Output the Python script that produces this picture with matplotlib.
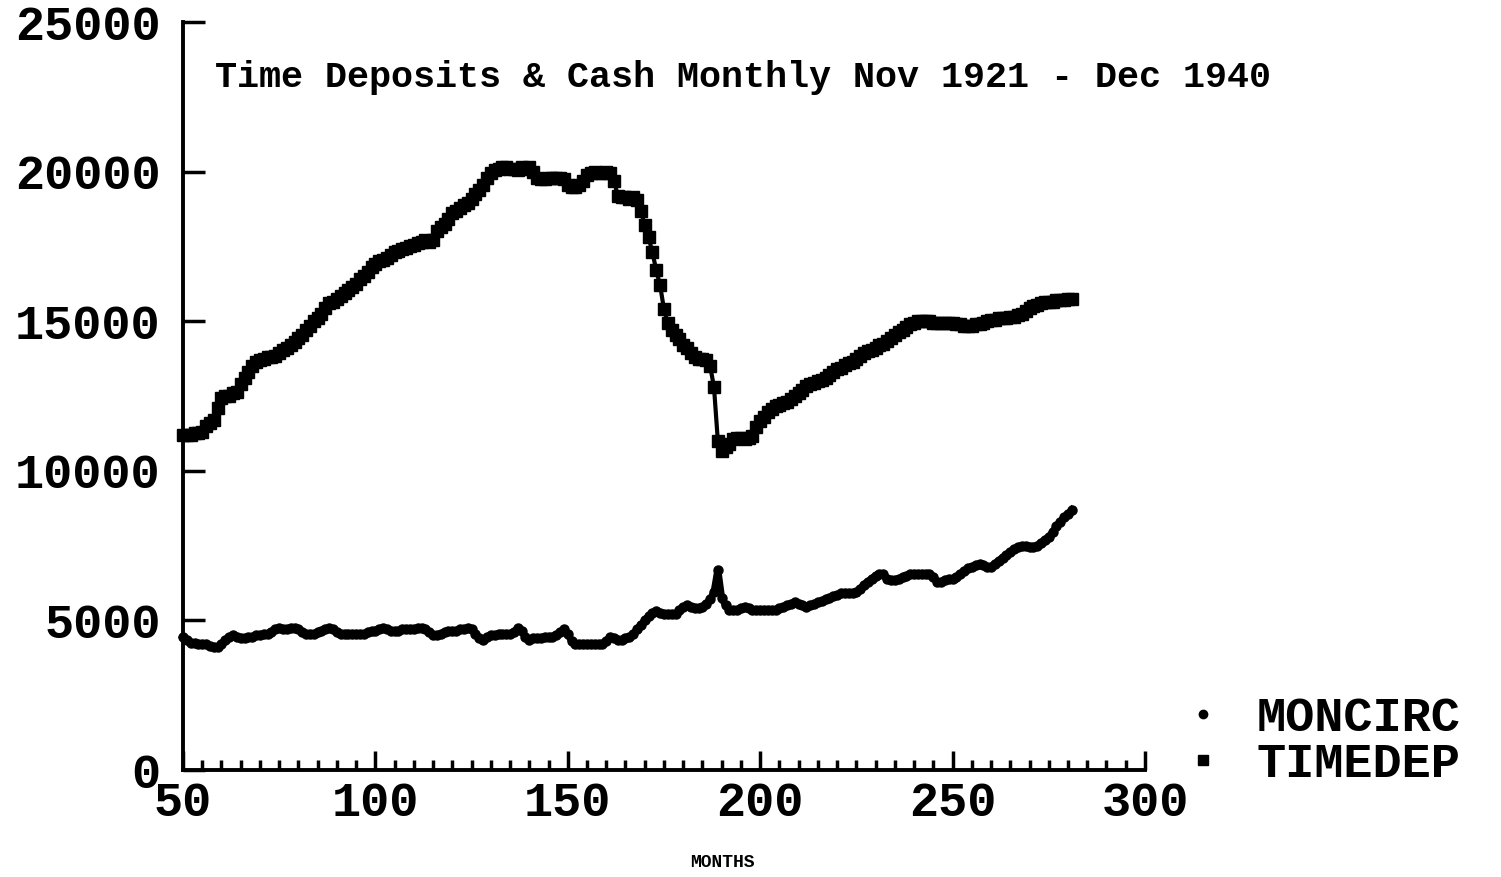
import matplotlib
matplotlib.use("Agg")
import matplotlib.pyplot as plt
import numpy as np
from matplotlib.lines import Line2D

plt.rcParams['font.family'] = ['Liberation Mono', 'DejaVu Sans Mono']
plt.rcParams['font.weight'] = 'bold'

# month index on the x axis (Nov 1921 - Dec 1940)
months = np.arange(50, 282)

# time deposits
timedep = [
    11200, 11200, 11200, 11250, 11250, 11300, 11500, 11600, 11700, 12100,
    12450, 12500, 12500, 12600, 12650, 12900, 13100, 13300, 13500, 13650,
    13700, 13750, 13800, 13800, 13850, 13950, 14050, 14100, 14200, 14300,
    14450, 14550, 14700, 14850, 15000, 15100, 15250, 15450, 15600, 15650,
    15750, 15850, 15950, 16050, 16150, 16250, 16400, 16500, 16650, 16800,
    16900, 17000, 17050, 17100, 17200, 17300, 17350, 17400, 17450, 17500,
    17550, 17600, 17650, 17700, 17650, 17700, 18000, 18150, 18250, 18400,
    18600, 18700, 18800, 18900, 18950, 19100, 19250, 19400, 19550, 19800,
    19950, 20050, 20100, 20150, 20150, 20100, 20100, 20050, 20150, 20100,
    20150, 20000, 19800, 19750, 19750, 19800, 19800, 19800, 19800, 19750,
    19550, 19500, 19500, 19550, 19700, 19900, 19950, 20000, 19950, 19950,
    20000, 19950, 19700, 19200, 19150, 19150, 19100, 19150, 19050, 18700,
    18200, 17800, 17300, 16700, 16200, 15400, 14950, 14700, 14550, 14400,
    14200, 14100, 13950, 13800, 13750, 13750, 13700, 13500, 12800, 11000,
    10650, 10800, 10900, 11050, 11100, 11100, 11050, 11100, 11150, 11450,
    11650, 11800, 11950, 12050, 12150, 12200, 12250, 12300, 12400, 12500,
    12600, 12700, 12850, 12900, 12950, 13000, 13050, 13100, 13200, 13300,
    13400, 13450, 13550, 13600, 13650, 13750, 13850, 13950, 14000, 14050,
    14100, 14200, 14250, 14350, 14450, 14550, 14650, 14700, 14800, 14900,
    14950, 15000, 15000, 15000, 15000, 14950, 14950, 14950, 14950, 14950,
    14950, 14900, 14900, 14850, 14850, 14850, 14900, 14900, 14950, 15000,
    15050, 15050, 15100, 15100, 15100, 15150, 15150, 15200, 15250, 15350,
    15450, 15500, 15550, 15600, 15650, 15650, 15650, 15700, 15700, 15700,
    15750, 15750,
]

# money in circulation (cash)
moncirc = [
    4450, 4350, 4250, 4250, 4200, 4200, 4200, 4150, 4100, 4100,
    4200, 4350, 4450, 4500, 4450, 4400, 4400, 4450, 4450, 4500,
    4500, 4550, 4550, 4600, 4700, 4750, 4700, 4700, 4750, 4750,
    4700, 4600, 4550, 4550, 4550, 4600, 4650, 4700, 4750, 4700,
    4600, 4550, 4550, 4550, 4550, 4550, 4550, 4550, 4600, 4650,
    4650, 4700, 4750, 4700, 4650, 4650, 4650, 4700, 4700, 4700,
    4700, 4750, 4750, 4700, 4600, 4500, 4500, 4550, 4600, 4650,
    4650, 4650, 4700, 4700, 4750, 4700, 4550, 4400, 4350, 4450,
    4500, 4500, 4550, 4550, 4550, 4550, 4600, 4750, 4650, 4450,
    4350, 4400, 4400, 4400, 4450, 4450, 4450, 4500, 4600, 4700,
    4550, 4300, 4200, 4200, 4200, 4200, 4200, 4200, 4200, 4200,
    4300, 4450, 4400, 4350, 4350, 4400, 4450, 4550, 4700, 4850,
    5000, 5150, 5250, 5300, 5250, 5200, 5200, 5200, 5200, 5350,
    5450, 5500, 5450, 5400, 5400, 5450, 5550, 5700, 5950, 6700,
    5750, 5500, 5350, 5350, 5350, 5400, 5450, 5400, 5350, 5350,
    5350, 5350, 5350, 5350, 5350, 5400, 5450, 5500, 5550, 5600,
    5550, 5500, 5450, 5500, 5550, 5600, 5650, 5700, 5750, 5800,
    5850, 5900, 5900, 5900, 5900, 5950, 6050, 6200, 6300, 6400,
    6500, 6550, 6550, 6400, 6350, 6350, 6400, 6450, 6500, 6550,
    6550, 6550, 6550, 6550, 6550, 6450, 6300, 6300, 6350, 6400,
    6400, 6450, 6550, 6650, 6750, 6800, 6850, 6900, 6850, 6800,
    6800, 6900, 7000, 7100, 7200, 7300, 7400, 7450, 7500, 7500,
    7450, 7450, 7500, 7600, 7700, 7800, 7950, 8150, 8300, 8450,
    8550, 8700,
]

x_ticks = [50, 100, 150, 200, 250, 300]
y_ticks = [0, 5000, 10000, 15000, 20000, 25000]

fig = plt.figure(figsize=(15.01, 8.77), dpi=100)
ax = fig.add_axes([0.1219, 0.122, 0.6409, 0.8529])

ax.plot(months, timedep, color='black', linewidth=3, marker='s',
        markersize=8.5, clip_on=False)
ax.plot(months, moncirc, color='black', linewidth=5, marker='o',
        markersize=6.5, clip_on=False)

ax.set_xlim(50, 300)
ax.set_ylim(0, 25000)
ax.set_xticks(x_ticks)
ax.set_xticks(np.arange(55, 300, 5), minor=True)
ax.set_yticks(y_ticks)
ax.set_xticklabels([str(t) for t in x_ticks], fontsize=35, fontweight='bold')
ax.set_yticklabels([str(t) for t in y_ticks], fontsize=35, fontweight='bold')

for side in ('top', 'right'):
    ax.spines[side].set_visible(False)
for side in ('left', 'bottom'):
    ax.spines[side].set_linewidth(2.8)

ax.tick_params(axis='y', direction='in', length=16, width=2.5, pad=16)
ax.tick_params(axis='x', which='major', direction='in', length=14, width=2.5, pad=8)
ax.tick_params(axis='x', which='minor', direction='in', length=7, width=2.5)

ax.text(0.033, 0.926, 'Time Deposits & Cash Monthly Nov 1921 - Dec 1940',
        transform=ax.transAxes, fontsize=26.5, fontweight='bold', va='center')

ax.set_xlabel('MONTHS', fontsize=13, fontweight='bold')
ax.xaxis.set_label_coords(0.561, -0.123)
ax.xaxis.label.set_verticalalignment('center')

handles = [
    Line2D([], [], color='black', linestyle='none', marker='o', markersize=6),
    Line2D([], [], color='black', linestyle='none', marker='s', markersize=7),
]
fig.legend(handles, ['MONCIRC', 'TIMEDEP'], loc='lower left',
           bbox_to_anchor=(0.769, 0.075), frameon=False,
           prop={'size': 35, 'weight': 'bold'}, handlelength=1,
           handletextpad=0.6, labelspacing=0.02, borderpad=0)

fig.savefig('out.png', dpi=100, facecolor='white')
